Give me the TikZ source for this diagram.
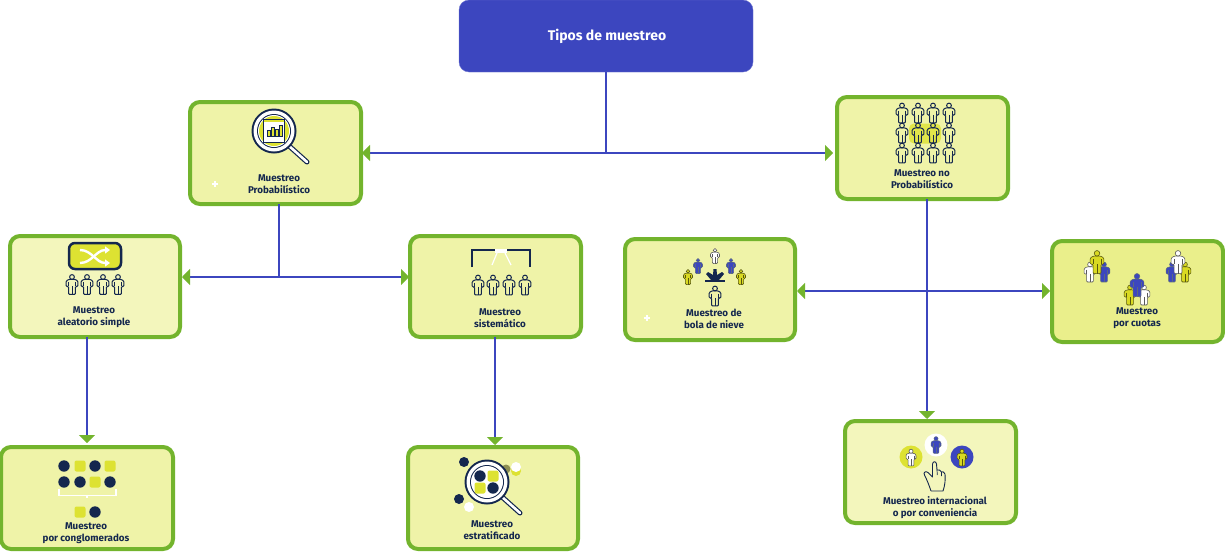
\documentclass[tikz,border=0pt]{standalone}
\usepackage{fontspec}
\setmainfont{Fira Sans}
\usetikzlibrary{arrows.meta,calc}
\definecolor{grn}{HTML}{73B42D}
\definecolor{navy}{HTML}{14274E}
\definecolor{blu}{HTML}{3C46BF}
\definecolor{lime}{HTML}{DDE232}
\definecolor{yel}{HTML}{D9D922}
\definecolor{boxa}{HTML}{EFF3A8}
\definecolor{boxb}{HTML}{F3F6BC}
\definecolor{boxc}{HTML}{EAEF8B}
\tikzset{
  cardbox/.style={draw=grn,line width=4pt,rounded corners=10pt,minimum width=171pt,minimum height=102pt,outer sep=0pt,inner sep=0pt},
  toptitle/.style={fill=blu,draw=blu!75!white,line width=.4pt,rounded corners=10pt,minimum width=294pt,minimum height=72pt,text=white,outer sep=0pt,font=\fontsize{14}{16}\selectfont\bfseries},
  cardtext/.style={text=navy,align=center,font=\fontsize{9.8}{12.2}\selectfont\bfseries,inner sep=0pt},
  link/.style={draw=blu,line width=1.6pt},
  tiplink/.style={link,-{Triangle[length=8pt,width=16pt,color=grn]}},
  pout/.style={draw=navy,fill=none,line width=1pt},
  pwhite/.style={draw=black!65,fill=white,line width=.6pt},
  pblue/.style={draw=navy!70,fill=blu,line width=.6pt},
  pyel/.style={draw=black!60!yel,fill=yel,line width=.6pt},
  dotn/.style={fill=navy},
  dotl/.style={fill=lime},
  sparkle/.style={draw=white,line width=1.2pt},
}
\newcommand\personat[4]{%
  \begin{scope}[shift={(#1,#2)},scale=#3]
    \path[#4,rounded corners=1pt] (-3.4,-5.4) -- (3.4,-5.4) -- (6.2,-3.6) -- (6.2,2) -- (3.6,2) -- (3.6,10.5) -- (-3.6,10.5) -- (-3.6,2) -- (-6.2,2) -- (-6.2,-3.6) -- cycle;
    \path[#4,fill=none] (-3.6,-2.5) -- (-3.6,2) (3.6,-2.5) -- (3.6,2) (0,2) -- (0,10.5);
    \path[#4] (0,-7.9) circle[radius=2.5];
  \end{scope}}
\newcommand\gdot[2]{\fill[dotn] (#1,#2) circle[radius=5.7];}
\newcommand\gsq[2]{\fill[dotl,rounded corners=2pt] (#1-5.5,#2-5.5) rectangle (#1+5.5,#2+5.5);}
\newcommand\lens[2]{%
  \draw[navy,line width=5pt,line cap=round] (#1+14,#2+14) -- (#1+33,#2+31);
  \draw[white,line width=2.6pt,line cap=round] (#1+14,#2+14) -- (#1+33,#2+31);
  \fill[navy] (#1,#2) circle[radius=22.5];
  \fill[white] (#1,#2) circle[radius=20.5];
  \fill[navy] (#1,#2) circle[radius=17];
  \fill[white] (#1,#2) circle[radius=16];}
\begin{document}
\begin{tikzpicture}[x=1pt,y=-1pt]
\useasboundingbox (0,0) rectangle (1225,552);
% boxes
\node[toptitle] (top) at (606,36) {\hspace*{2pt}Tipos de muestreo};
\node[cardbox,fill=boxa] (prob) at (275.5,153) {};
\node[cardbox,fill=boxa] (noprob) at (922.5,148) {};
\node[cardbox,fill=boxb,minimum height=101pt,minimum width=170pt] (alea) at (95,286.5) {};
\node[cardbox,fill=boxa,minimum height=101pt] (sist) at (495.5,286.5) {};
\node[cardbox,fill=boxa,minimum width=172pt] (cong) at (87,498) {};
\node[cardbox,fill=boxa,minimum width=170pt] (estr) at (493,498) {};
\node[cardbox,fill=boxa,minimum height=101pt,minimum width=170pt] (bola) at (710,289.5) {};
\node[cardbox,fill=boxc,minimum height=101pt] (cuot) at (1137.5,291.5) {};
\node[cardbox,fill=boxb] (inter) at (930.5,472) {};
% labels
\node[cardtext] (tprob) at (279,184.5) {Muestreo\\Probabilístico};
\node[cardtext] (tnoprob) at (922,179.5) {Muestreo no\\Probabilístico};
\node[cardtext] (talea) at (94,317) {Muestreo\\aleatorio simple};
\node[cardtext] (tsist) at (500,318) {Muestreo\\sistemático};
\node[cardtext] (tcong) at (86,533.5) {Muestreo\\por conglomerados};
\node[cardtext] (testr) at (492,530) {Muestreo\\estratificado};
\node[cardtext] (tbola) at (714,319) {Muestreo de\\bola de nieve};
\node[cardtext] (tcuot) at (1137,318.5) {Muestreo\\por cuotas};
\node[cardtext] (tinter) at (935,508) {Muestreo internacional\\o por conveniencia};
% connectors
\coordinate (j1) at (top.south |- prob.east);
\coordinate (j2) at (279,277);
\coordinate (j3) at (927,291);
\coordinate (j5) at (495,300);
\draw[link] (top.south) -- (j1);
\draw[tiplink] (j1) -- ([xshift=1pt]prob.east);
\draw[tiplink] (j1) -- ([xshift=-4pt]j1 -| noprob.west);
\draw[link] (prob.south -| j2) -- (j2);
\draw[tiplink] (j2) -- ([xshift=2pt]j2 -| alea.east);
\draw[tiplink] (j2) -- ([xshift=-1pt]j2 -| sist.west);
\draw[tiplink] (alea.south -| cong.north) -- ([yshift=4pt]cong.north);
\draw[tiplink] (sist.south -| j5) -- ([yshift=2pt]j5 |- estr.north);
\draw[tiplink] (noprob.south -| j3) -- ([yshift=2pt]j3 |- inter.north);
\draw[tiplink] (j3) -- ([xshift=2pt]j3 -| bola.east);
\draw[tiplink] (j3) -- ([xshift=-2pt]j3 -| cuot.west);
% sparkles
\draw[sparkle] (212,184) -- (218,184) (215,181) -- (215,187);
\draw[sparkle] (644,318) -- (650,318) (647,315) -- (647,321);
% icon: probabilistic lens
\lens{274}{131}
\fill[lime] (274,131) circle[radius=15];
\draw[navy,fill=white,line width=.7pt] (263.5,119.5) rectangle (284,142);
\fill[lime] (264,120) -- (284,120) -- (284,122) -- (264,122) -- cycle;
\foreach \bx/\bt in {267.5/130,271.5/127,275.5/129,279.5/125}{\draw[navy,fill=lime,line width=.8pt] (\bx,\bt) rectangle (\bx+2.5,136);}
% icon: aleatorio
\draw[navy,fill=lime,line width=2.5pt,rounded corners=6pt] (69,243) rectangle (121,269);
\draw[white,line width=2.4pt,-{Triangle[length=5pt,width=7pt]}] (80,250) .. controls (92,250) and (96,263) .. (110,263);
\draw[white,line width=2.4pt,-{Triangle[length=5pt,width=7pt]}] (80,263) .. controls (92,263) and (96,250) .. (110,250);
\foreach \px in {72,87,103,118}{\personat{\px}{284.5}{.95}{pout}}
% icon: sistematico
\draw[navy,line width=2.6pt] (472,267) -- (472,250) -- (530,250) -- (530,267);
\fill[white] (495,248.5) rectangle (507,252.5);
\draw[white,line width=1.2pt] (497,253) -- (492,265) (505,253) -- (511,265);
\foreach \px in {478,493,509,525}{\personat{\px}{285}{.95}{pout}}
% icon: no probabilistic
\fill[lime!80!boxa,rounded corners=5pt] (909,123.5) rectangle (941,143.5);
\foreach \py in {113,133,153}{\foreach \px in {902,918,933,949}{\personat{\px}{\py}{.95}{pout}}}
% icon: conglomerados
\gdot{64}{466}\gsq{80}{466}\gdot{95}{466}\gsq{110}{466}
\gdot{64}{482}\gdot{80}{482}\gsq{95}{482}\gdot{110}{482}
\draw[white,line width=1.5pt] (59,489) -- (59,495.5) -- (116,495.5) -- (116,489) (87,495.5) -- (87,498);
\gsq{80}{512}\gdot{95}{512}
% icon: estratificado
\fill[navy] (464,462) circle[radius=5];
\fill[navy] (459,499) circle[radius=5];
\fill[white] (469,507) circle[radius=5];
\fill[black!40!boxc] (506,469) circle[radius=4.5];
\fill[lime] (516,471) circle[radius=5];
\fill[white] (516,467) circle[radius=5];
\lens{487}{482}
\gdot{480}{476}\gsq{493}{476}\gsq{480}{488}\gdot{493}{488}
% icon: bola de nieve
\personat{715}{256}{.72}{pwhite}
\personat{698}{266}{.72}{pblue}
\personat{731}{266}{.72}{pblue}
\personat{688}{277}{.72}{pyel}
\personat{741}{277}{.72}{pyel}
\draw[navy,line width=2.6pt] (705,281) -- (725,281);
\fill[navy] (713.5,269) -- (716.5,269) -- (717,275) -- (722,272) -- (724,274) -- (719,280) -- (711,280) -- (706,274) -- (708,272) -- (713,275) -- cycle;
\personat{715}{296}{.95}{pout}
% icon: cuotas
\personat{1090}{272}{.95}{pwhite}
\personat{1104}{272}{.95}{pblue}
\personat{1097}{262}{1.1}{pyel}
\personat{1172}{272}{.95}{pblue}
\personat{1185}{272}{.95}{pyel}
\personat{1178}{262}{1.1}{pwhite}
\personat{1130}{295}{.95}{pyel}
\personat{1144}{295}{.95}{pwhite}
\personat{1137}{285}{1.1}{pblue}
% icon: internacional
\fill[lime] (911,457) circle[radius=11.5];
\fill[white] (936,445) circle[radius=11.5];
\fill[blu] (962,457) circle[radius=11.5];
\personat{911}{457.5}{.8}{pwhite}
\personat{936}{445}{.8}{pblue}
\personat{962}{457.5}{.8}{pyel}
\draw[navy,fill=boxb,line width=.9pt,line join=round] (931,491) -- (943,491) .. controls (945,485) and (945.5,480) .. (945,474) .. controls (944.5,471.5) and (942,471.5) .. (941.5,472) .. controls (941,470) and (938.5,469.5) .. (937,470) -- (936.5,464) .. controls (936,461) and (933,461) .. (932.5,464) -- (932.5,477) -- (928,472.5) .. controls (925.5,470.5) and (923,472.5) .. (924.5,475) .. controls (927,480) and (929,485) .. (931,491);
\draw[navy,line width=.7pt] (937,470) -- (937.3,475) (941.5,472) -- (941.5,476);
\end{tikzpicture}
\end{document}
